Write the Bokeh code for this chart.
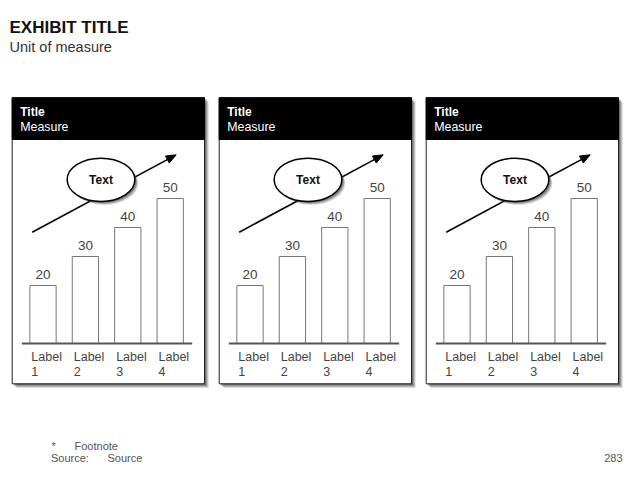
from bokeh.plotting import figure
from bokeh.models import Range1d
from bokeh.core.properties import value
from bokeh.embed import file_html
from bokeh.resources import INLINE

# ---------------- data ----------------
exhibit_title = "EXHIBIT TITLE"
unit_of_measure = "Unit of measure"
panel_titles = ["Title", "Title", "Title"]
panel_measures = ["Measure", "Measure", "Measure"]
callout_texts = ["Text", "Text", "Text"]
categories = ["Label 1", "Label 2", "Label 3", "Label 4"]
panel1_values = [20, 30, 40, 50]
panel2_values = [20, 30, 40, 50]
panel3_values = [20, 30, 40, 50]
footnote_mark = "*"
footnote_text = "Footnote"
source_label = "Source:"
source_text = "Source"
page_number = "283"

panels_values = [panel1_values, panel2_values, panel3_values]

# ---------------- layout constants ----------------
W, H = 624, 464
FONT = value("Liberation Sans")
PX_PER_UNIT = 2.9
BASE_Y = 343.0          # pixel row of value 0

p = figure(width=W, height=H, x_range=Range1d(0, W), y_range=Range1d(H, 0),
           output_backend="svg", toolbar_location=None, min_border=0,
           x_axis_location=None, y_axis_location=None)
p.grid.visible = False
p.outline_line_color = None
p.background_fill_color = "white"
p.border_fill_color = "white"
p.extra_y_ranges = {"val": Range1d(-(H - BASE_Y) / PX_PER_UNIT, BASE_Y / PX_PER_UNIT)}


def txt(x, y, s, size, color, style="normal", align="left", **kw):
    p.text(x=x, y=y, text=s, text_font=FONT, text_font_size=size, text_font_style=style,
           text_color=color, text_align=align, text_baseline="middle", **kw)


# headline
txt([9], [26.7], [exhibit_title], "17px", "#111111", "bold")
txt([9], [46], [unit_of_measure], "14.5px", "#333333")

PANEL_L0, PANEL_STEP, PANEL_W = 11.7, 207.0, 192.3
TOP, HEAD_B, BOT = 97.3, 139.0, 383.3
BAR_REL0, BAR_STEP, BAR_W = 30.8, 42.4, 26.3

for k, vals in enumerate(panels_values):
    L = PANEL_L0 + k * PANEL_STEP
    R = L + PANEL_W
    # drop shadow
    for off, a in [(4.5, 0.12), (3.5, 0.2), (2.5, 0.3), (1.5, 0.35)]:
        p.quad(left=L + off, right=R + off, top=TOP + off, bottom=BOT + off,
               fill_color="#333333", fill_alpha=a, line_color=None)
    # body
    p.quad(left=L, right=R, top=TOP, bottom=BOT, fill_color="white",
           line_color="#222222", line_width=1)
    # header
    p.quad(left=L, right=R, top=TOP, bottom=HEAD_B, fill_color="black", line_color="black")
    txt([L + 8], [111], [panel_titles[k]], "12px", "white", "bold")
    txt([L + 8], [126], [panel_measures[k]], "12.4px", "white")

    # trend arrow
    x0, y0, x1, y1 = L + 20, 231.7, L + 164, 154.3
    dx, dy = x1 - x0, y1 - y0
    ln = (dx * dx + dy * dy) ** 0.5
    ux, uy = dx / ln, dy / ln
    nx, ny = -uy, ux
    hl, hw = 10.0, 4.0
    p.segment(x0=[x0], y0=[y0], x1=[x1 - ux * 8], y1=[y1 - uy * 8], line_color="black", line_width=1.6)
    p.patch(x=[x1, x1 - ux * hl + nx * hw, x1 - ux * hl - nx * hw],
            y=[y1, y1 - uy * hl + ny * hw, y1 - uy * hl - ny * hw],
            fill_color="black", line_color="black", line_width=1)

    # callout ellipse
    ex, ey, ew, eh = L + 88.8, 179.3, 67.7, 43.3
    for off, a in [(3.5, 0.2), (2.5, 0.35), (1.5, 0.45)]:
        p.ellipse(x=[ex + off], y=[ey + off], width=ew, height=eh,
                  fill_color="#444444", fill_alpha=a, line_color=None)
    p.ellipse(x=[ex], y=[ey], width=ew, height=eh, fill_color="white",
              line_color="black", line_width=1.5)
    txt([ex], [ey], [callout_texts[k]], "12px", "#111111", "bold", "center")

    # bars
    xs = [L + BAR_REL0 + i * BAR_STEP for i in range(len(vals))]
    p.vbar(x=xs, top=vals, bottom=0, width=BAR_W, y_range_name="val",
           fill_color="white", line_color="#777777", line_width=1)
    txt(xs, [v + 3.86 for v in vals], [str(v) for v in vals], "13.5px", "#444444",
        align="center", y_range_name="val")
    # baseline
    p.segment(x0=[L + 9.6], y0=[0], x1=[L + 180], y1=[0], y_range_name="val",
              line_color="#555555", line_width=2)
    # category labels
    first = [c.split(" ")[0] for c in categories]
    second = [c.split(" ")[1] for c in categories]
    lx = [x - BAR_W / 2 + 1.5 for x in xs]
    txt(lx, [356.5] * len(lx), first, "12.5px", "#444444")
    txt(lx, [371.2] * len(lx), second, "12.5px", "#444444")

# footnotes (kept inside the 464 px canvas)
txt([51], [445], [footnote_mark], "11px", "#555555")
txt([74], [445], [footnote_text], "11px", "#555555")
txt([50.5], [457], [source_label], "11px", "#555555")
txt([107], [457], [source_text], "11px", "#555555")
txt([622], [457], [page_number], "11px", "#555555", align="right")

open("out.html", "w").write(file_html(p, INLINE))
